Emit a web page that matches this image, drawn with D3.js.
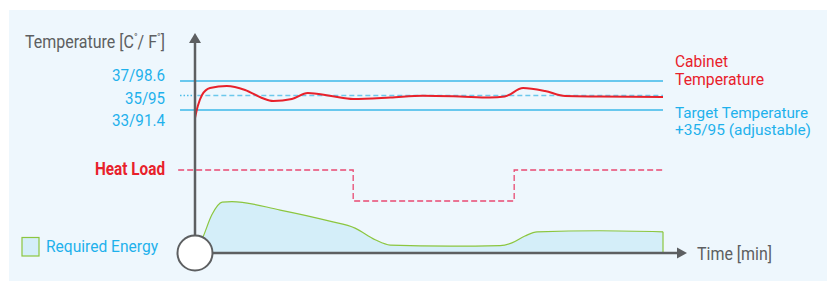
<!DOCTYPE html>
<html>
<head>
<meta charset="utf-8">
<script src="https://cdn.jsdelivr.net/npm/d3@7"></script>
<style>
  body { margin: 0; background: #fff; }
  text { font-family: "Roboto", "Liberation Sans", sans-serif; }
</style>
</head>
<body>
<svg id="chart" width="827" height="281"></svg>
<script>
// time in minutes (arbitrary units), temperature in C
const tempTime = [0, 0.6, 1.5, 3.2, 6.8, 10.7, 14.3, 16.7, 20.7, 24.1, 29.1, 33.8, 41.7, 48.7, 56.6, 63, 66.2, 70.1, 74.8, 79.1, 86.5, 100];
const cabinetTemp = [31.9, 33.55, 35.07, 36.03, 36.31, 35.76, 34.66, 34.24, 34.52, 35.34, 34.93, 34.52, 34.72, 34.97, 34.86, 34.72, 34.86, 36.03, 35.62, 34.93, 34.86, 34.79];

const energyTime = [0, 1.7, 3.6, 5.8, 7.9, 18.2, 28.8, 34.2, 38.5, 41.7, 54.5, 65.2, 67.7, 70.5, 73.1, 86.5, 100];
const requiredEnergy = [0, 3.0, 7.2, 9.6, 9.7, 8.1, 6.0, 4.7, 2.5, 1.5, 1.3, 1.4, 1.9, 3.2, 4.0, 4.2, 4.0];

const heatTime = [-3.6, 33.8, 33.8, 68.2, 68.2, 100];
const heatLoad = [1, 1, 0, 0, 1, 1];

const tempTicks = [37, 35, 33];
const tempTickLabels = ["37/98.6", "35/95", "33/91.4"];

const svg = d3.select("#chart");
const red = "#e8212b", cyan = "#1eb1ec", gray = "#5d5f61";

// squeeze text to a condensed look
function fit(sel, w) {
  sel.attr("textLength", w).attr("lengthAdjust", "spacingAndGlyphs");
  return sel;
}

svg.append("rect").attr("x", 9).attr("y", 10).attr("width", 818).attr("height", 271).attr("fill", "#eef7fd");

const x = d3.scaleLinear().domain([0, 100]).range([195, 663]);
const yT = d3.scaleLinear().domain([33, 37]).range([110, 81]);
const yE = d3.scaleLinear().domain([0, 10]).range([253, 200]);
const yH = d3.scaleLinear().domain([0, 1]).range([201, 170]);

// energy area
const area = d3.area().x((d, i) => x(energyTime[i])).y0(yE(0)).y1(d => yE(d)).curve(d3.curveMonotoneX);
svg.append("path").attr("d", area(requiredEnergy)).attr("fill", "#d4eef9");
const eline = d3.line().x((d, i) => x(energyTime[i])).y(d => yE(d)).curve(d3.curveMonotoneX);
svg.append("path").attr("d", eline(requiredEnergy)).attr("fill", "none").attr("stroke", "#8cc63f").attr("stroke-width", 1.2);
svg.append("line").attr("x1", x(100)).attr("x2", x(100)).attr("y1", yE(requiredEnergy[requiredEnergy.length - 1])).attr("y2", yE(0))
  .attr("stroke", "#8cc63f").attr("stroke-width", 1.2);

// temperature reference lines
const labelW = [53, 40, 53];
tempTicks.forEach((t, i) => {
  if (t === 35) {
    svg.append("line").attr("x1", x(-3.2)).attr("x2", x(0)).attr("y1", yT(t)).attr("y2", yT(t))
      .attr("stroke", "#4bbde9").attr("stroke-width", 1.5).attr("stroke-dasharray", "1.5,2");
    svg.append("line").attr("x1", x(0.5)).attr("x2", x(100)).attr("y1", yT(t)).attr("y2", yT(t))
      .attr("stroke", "#6cc8ec").attr("stroke-width", 1.6).attr("stroke-dasharray", "5,3");
  } else {
    svg.append("line").attr("x1", x(-3.2)).attr("x2", x(100)).attr("y1", yT(t)).attr("y2", yT(t))
      .attr("stroke", "#3bb8e9").attr("stroke-width", 1.3);
  }
  // labels are spread out evenly, not on the lines
  fit(svg.append("text").attr("x", 165).attr("y", 81 + i * 22.5).attr("text-anchor", "end")
    .attr("font-size", 17).attr("fill", cyan).text(tempTickLabels[i]), labelW[i]);
});

// heat load step line
const hline = d3.line().x((d, i) => x(heatTime[i])).y(d => yH(d));
svg.append("path").attr("d", hline(heatLoad)).attr("fill", "none").attr("stroke", "#e94a72")
  .attr("stroke-width", 1.3).attr("stroke-dasharray", "6,3");

// cabinet temperature
const tline = d3.line().x((d, i) => x(tempTime[i])).y(d => yT(d)).curve(d3.curveMonotoneX);
svg.append("path").attr("d", tline(cabinetTemp)).attr("fill", "none").attr("stroke", red).attr("stroke-width", 2);

// axes
svg.append("line").attr("x1", 195).attr("x2", 195).attr("y1", 40).attr("y2", 253).attr("stroke", gray).attr("stroke-width", 2.5);
svg.append("path").attr("d", "M195,33 L201,43 L189,43 Z").attr("fill", gray);
svg.append("line").attr("x1", 195).attr("x2", 679).attr("y1", 253).attr("y2", 253).attr("stroke", gray).attr("stroke-width", 2.5);
svg.append("path").attr("d", "M687,253 L677,247.5 L677,258.5 Z").attr("fill", gray);
svg.append("circle").attr("cx", 195).attr("cy", 253).attr("r", 17.5).attr("fill", "#fff").attr("stroke", gray).attr("stroke-width", 2);

// labels
const title = svg.append("text").attr("x", 0).attr("y", 0).attr("font-size", 18).attr("fill", gray)
  .html('Temperature [C<tspan font-size="11" dy="-7">°</tspan><tspan dy="7">/ F</tspan><tspan font-size="11" dy="-7">°</tspan><tspan dy="7">]</tspan>');
const tw = title.node().getBBox().width;
title.attr("transform", `translate(25,48) scale(${140 / tw},1)`);

fit(svg.append("text").attr("x", 675).attr("y", 67).attr("font-size", 16).attr("fill", red).text("Cabinet"), 53);
fit(svg.append("text").attr("x", 675).attr("y", 85).attr("font-size", 16).attr("fill", red).text("Temperature"), 89);
fit(svg.append("text").attr("x", 675).attr("y", 118).attr("font-size", 15.5).attr("fill", cyan).text("Target Temperature"), 133);
fit(svg.append("text").attr("x", 675).attr("y", 135).attr("font-size", 15.5).attr("fill", cyan).text("+35/95 (adjustable)"), 136);
fit(svg.append("text").attr("x", 95).attr("y", 175).attr("font-size", 18)
  .attr("font-weight", "bold").attr("fill", red).text("Heat Load"), 70);
svg.append("rect").attr("x", 22).attr("y", 237.5).attr("width", 17).attr("height", 18.5)
  .attr("fill", "#d4eef9").attr("stroke", "#8cc63f").attr("stroke-width", 1.2);
fit(svg.append("text").attr("x", 46).attr("y", 252).attr("font-size", 17).attr("fill", cyan).text("Required Energy"), 112);
fit(svg.append("text").attr("x", 697).attr("y", 260).attr("font-size", 18.5).attr("fill", gray).text("Time [min]"), 75);
</script>
</body>
</html>
